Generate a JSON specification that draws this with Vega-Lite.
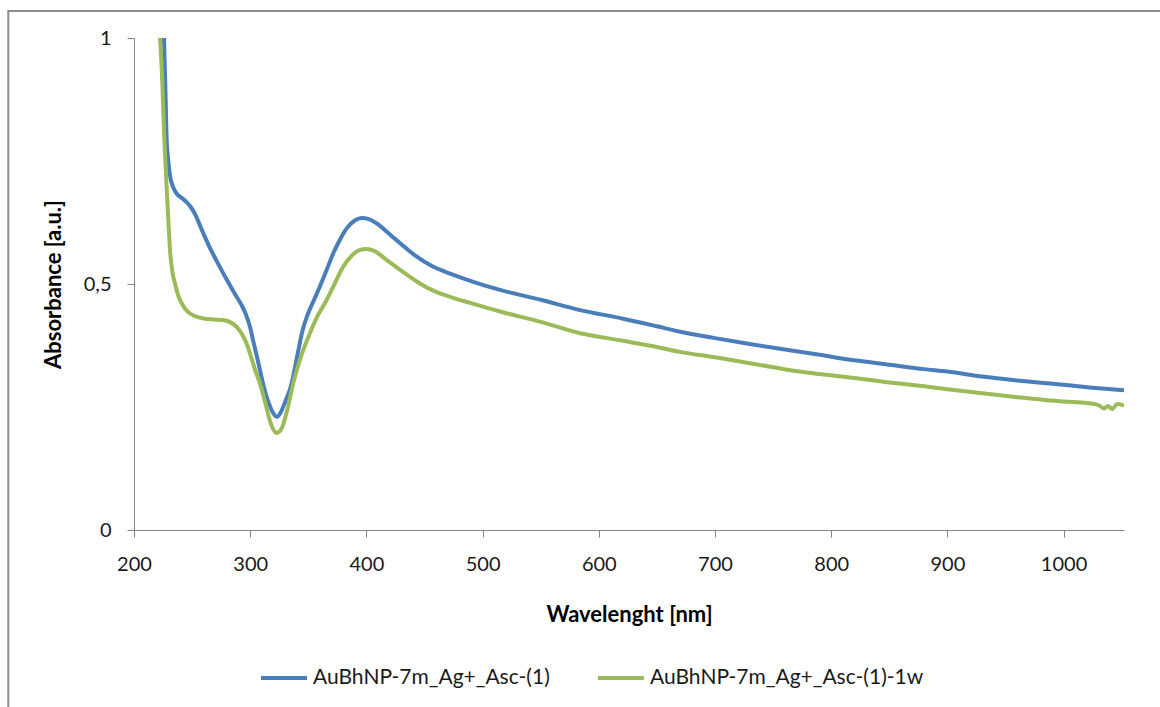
{
  "$schema": "https://vega.github.io/schema/vega-lite/v6.json",
  "autosize": "none",
  "width": 990,
  "height": 492,
  "padding": {"left": 134, "top": 38, "right": 36, "bottom": 177},
  "background": "white",
  "config": {
    "view": {"stroke": null},
    "font": "Lato",
    "axis": {
      "grid": false,
      "domainColor": "#868686",
      "tickColor": "#868686",
      "tickSize": 7,
      "labelFont": "Lato",
      "labelFontSize": 20,
      "labelColor": "#1a1a1a",
      "titleFont": "Lato",
      "titleFontSize": 22,
      "titleFontWeight": "bold",
      "titleColor": "#000000"
    },
    "legend": {
      "labelFont": "Lato",
      "labelFontSize": 21,
      "labelColor": "#1a1a1a",
      "labelLimit": 0
    }
  },
  "datasets": {
    "spectra": [
      {"wl": 225.8, "abs": 1.0, "series": "AuBhNP-7m_Ag+_Asc-(1)"},
      {"wl": 227, "abs": 0.9, "series": "AuBhNP-7m_Ag+_Asc-(1)"},
      {"wl": 228, "abs": 0.8, "series": "AuBhNP-7m_Ag+_Asc-(1)"},
      {"wl": 229.5, "abs": 0.75, "series": "AuBhNP-7m_Ag+_Asc-(1)"},
      {"wl": 231, "abs": 0.72, "series": "AuBhNP-7m_Ag+_Asc-(1)"},
      {"wl": 234, "abs": 0.695, "series": "AuBhNP-7m_Ag+_Asc-(1)"},
      {"wl": 237, "abs": 0.683, "series": "AuBhNP-7m_Ag+_Asc-(1)"},
      {"wl": 241, "abs": 0.675, "series": "AuBhNP-7m_Ag+_Asc-(1)"},
      {"wl": 245, "abs": 0.667, "series": "AuBhNP-7m_Ag+_Asc-(1)"},
      {"wl": 249, "abs": 0.656, "series": "AuBhNP-7m_Ag+_Asc-(1)"},
      {"wl": 253, "abs": 0.64, "series": "AuBhNP-7m_Ag+_Asc-(1)"},
      {"wl": 258, "abs": 0.612, "series": "AuBhNP-7m_Ag+_Asc-(1)"},
      {"wl": 265, "abs": 0.575, "series": "AuBhNP-7m_Ag+_Asc-(1)"},
      {"wl": 272, "abs": 0.543, "series": "AuBhNP-7m_Ag+_Asc-(1)"},
      {"wl": 280, "abs": 0.508, "series": "AuBhNP-7m_Ag+_Asc-(1)"},
      {"wl": 287, "abs": 0.479, "series": "AuBhNP-7m_Ag+_Asc-(1)"},
      {"wl": 292.6, "abs": 0.457, "series": "AuBhNP-7m_Ag+_Asc-(1)"},
      {"wl": 296, "abs": 0.44, "series": "AuBhNP-7m_Ag+_Asc-(1)"},
      {"wl": 299.8, "abs": 0.413, "series": "AuBhNP-7m_Ag+_Asc-(1)"},
      {"wl": 303, "abs": 0.38, "series": "AuBhNP-7m_Ag+_Asc-(1)"},
      {"wl": 307, "abs": 0.34, "series": "AuBhNP-7m_Ag+_Asc-(1)"},
      {"wl": 311, "abs": 0.298, "series": "AuBhNP-7m_Ag+_Asc-(1)"},
      {"wl": 316, "abs": 0.258, "series": "AuBhNP-7m_Ag+_Asc-(1)"},
      {"wl": 320, "abs": 0.237, "series": "AuBhNP-7m_Ag+_Asc-(1)"},
      {"wl": 323, "abs": 0.23, "series": "AuBhNP-7m_Ag+_Asc-(1)"},
      {"wl": 326, "abs": 0.238, "series": "AuBhNP-7m_Ag+_Asc-(1)"},
      {"wl": 330, "abs": 0.26, "series": "AuBhNP-7m_Ag+_Asc-(1)"},
      {"wl": 335.7, "abs": 0.298, "series": "AuBhNP-7m_Ag+_Asc-(1)"},
      {"wl": 341, "abs": 0.36, "series": "AuBhNP-7m_Ag+_Asc-(1)"},
      {"wl": 345, "abs": 0.405, "series": "AuBhNP-7m_Ag+_Asc-(1)"},
      {"wl": 349, "abs": 0.435, "series": "AuBhNP-7m_Ag+_Asc-(1)"},
      {"wl": 355, "abs": 0.468, "series": "AuBhNP-7m_Ag+_Asc-(1)"},
      {"wl": 360, "abs": 0.495, "series": "AuBhNP-7m_Ag+_Asc-(1)"},
      {"wl": 366, "abs": 0.53, "series": "AuBhNP-7m_Ag+_Asc-(1)"},
      {"wl": 372, "abs": 0.565, "series": "AuBhNP-7m_Ag+_Asc-(1)"},
      {"wl": 377, "abs": 0.589, "series": "AuBhNP-7m_Ag+_Asc-(1)"},
      {"wl": 383, "abs": 0.613, "series": "AuBhNP-7m_Ag+_Asc-(1)"},
      {"wl": 390, "abs": 0.629, "series": "AuBhNP-7m_Ag+_Asc-(1)"},
      {"wl": 396, "abs": 0.634, "series": "AuBhNP-7m_Ag+_Asc-(1)"},
      {"wl": 402, "abs": 0.632, "series": "AuBhNP-7m_Ag+_Asc-(1)"},
      {"wl": 409, "abs": 0.623, "series": "AuBhNP-7m_Ag+_Asc-(1)"},
      {"wl": 420, "abs": 0.601, "series": "AuBhNP-7m_Ag+_Asc-(1)"},
      {"wl": 432, "abs": 0.577, "series": "AuBhNP-7m_Ag+_Asc-(1)"},
      {"wl": 443, "abs": 0.556, "series": "AuBhNP-7m_Ag+_Asc-(1)"},
      {"wl": 456, "abs": 0.537, "series": "AuBhNP-7m_Ag+_Asc-(1)"},
      {"wl": 472, "abs": 0.521, "series": "AuBhNP-7m_Ag+_Asc-(1)"},
      {"wl": 490, "abs": 0.506, "series": "AuBhNP-7m_Ag+_Asc-(1)"},
      {"wl": 515, "abs": 0.488, "series": "AuBhNP-7m_Ag+_Asc-(1)"},
      {"wl": 550, "abs": 0.468, "series": "AuBhNP-7m_Ag+_Asc-(1)"},
      {"wl": 584, "abs": 0.447, "series": "AuBhNP-7m_Ag+_Asc-(1)"},
      {"wl": 620, "abs": 0.43, "series": "AuBhNP-7m_Ag+_Asc-(1)"},
      {"wl": 650, "abs": 0.414, "series": "AuBhNP-7m_Ag+_Asc-(1)"},
      {"wl": 670, "abs": 0.403, "series": "AuBhNP-7m_Ag+_Asc-(1)"},
      {"wl": 700, "abs": 0.39, "series": "AuBhNP-7m_Ag+_Asc-(1)"},
      {"wl": 730, "abs": 0.378, "series": "AuBhNP-7m_Ag+_Asc-(1)"},
      {"wl": 760, "abs": 0.367, "series": "AuBhNP-7m_Ag+_Asc-(1)"},
      {"wl": 790, "abs": 0.356, "series": "AuBhNP-7m_Ag+_Asc-(1)"},
      {"wl": 820, "abs": 0.345, "series": "AuBhNP-7m_Ag+_Asc-(1)"},
      {"wl": 850, "abs": 0.336, "series": "AuBhNP-7m_Ag+_Asc-(1)"},
      {"wl": 880, "abs": 0.327, "series": "AuBhNP-7m_Ag+_Asc-(1)"},
      {"wl": 900, "abs": 0.322, "series": "AuBhNP-7m_Ag+_Asc-(1)"},
      {"wl": 930, "abs": 0.312, "series": "AuBhNP-7m_Ag+_Asc-(1)"},
      {"wl": 960, "abs": 0.304, "series": "AuBhNP-7m_Ag+_Asc-(1)"},
      {"wl": 1000, "abs": 0.295, "series": "AuBhNP-7m_Ag+_Asc-(1)"},
      {"wl": 1025, "abs": 0.289, "series": "AuBhNP-7m_Ag+_Asc-(1)"},
      {"wl": 1052, "abs": 0.284, "series": "AuBhNP-7m_Ag+_Asc-(1)"},
      {"wl": 222.4, "abs": 1.0, "series": "AuBhNP-7m_Ag+_Asc-(1)-1w"},
      {"wl": 224, "abs": 0.93, "series": "AuBhNP-7m_Ag+_Asc-(1)-1w"},
      {"wl": 226, "abs": 0.8, "series": "AuBhNP-7m_Ag+_Asc-(1)-1w"},
      {"wl": 228, "abs": 0.7, "series": "AuBhNP-7m_Ag+_Asc-(1)-1w"},
      {"wl": 230, "abs": 0.61, "series": "AuBhNP-7m_Ag+_Asc-(1)-1w"},
      {"wl": 231, "abs": 0.569, "series": "AuBhNP-7m_Ag+_Asc-(1)-1w"},
      {"wl": 233, "abs": 0.525, "series": "AuBhNP-7m_Ag+_Asc-(1)-1w"},
      {"wl": 235.3, "abs": 0.501, "series": "AuBhNP-7m_Ag+_Asc-(1)-1w"},
      {"wl": 238, "abs": 0.477, "series": "AuBhNP-7m_Ag+_Asc-(1)-1w"},
      {"wl": 241, "abs": 0.461, "series": "AuBhNP-7m_Ag+_Asc-(1)-1w"},
      {"wl": 244.5, "abs": 0.448, "series": "AuBhNP-7m_Ag+_Asc-(1)-1w"},
      {"wl": 248.2, "abs": 0.44, "series": "AuBhNP-7m_Ag+_Asc-(1)-1w"},
      {"wl": 253, "abs": 0.434, "series": "AuBhNP-7m_Ag+_Asc-(1)-1w"},
      {"wl": 259.6, "abs": 0.43, "series": "AuBhNP-7m_Ag+_Asc-(1)-1w"},
      {"wl": 268, "abs": 0.428, "series": "AuBhNP-7m_Ag+_Asc-(1)-1w"},
      {"wl": 276.8, "abs": 0.427, "series": "AuBhNP-7m_Ag+_Asc-(1)-1w"},
      {"wl": 283, "abs": 0.422, "series": "AuBhNP-7m_Ag+_Asc-(1)-1w"},
      {"wl": 288.3, "abs": 0.413, "series": "AuBhNP-7m_Ag+_Asc-(1)-1w"},
      {"wl": 293, "abs": 0.398, "series": "AuBhNP-7m_Ag+_Asc-(1)-1w"},
      {"wl": 296.9, "abs": 0.379, "series": "AuBhNP-7m_Ag+_Asc-(1)-1w"},
      {"wl": 301, "abs": 0.35, "series": "AuBhNP-7m_Ag+_Asc-(1)-1w"},
      {"wl": 305, "abs": 0.32, "series": "AuBhNP-7m_Ag+_Asc-(1)-1w"},
      {"wl": 308.4, "abs": 0.298, "series": "AuBhNP-7m_Ag+_Asc-(1)-1w"},
      {"wl": 313, "abs": 0.258, "series": "AuBhNP-7m_Ag+_Asc-(1)-1w"},
      {"wl": 318, "abs": 0.215, "series": "AuBhNP-7m_Ag+_Asc-(1)-1w"},
      {"wl": 322.8, "abs": 0.197, "series": "AuBhNP-7m_Ag+_Asc-(1)-1w"},
      {"wl": 327, "abs": 0.206, "series": "AuBhNP-7m_Ag+_Asc-(1)-1w"},
      {"wl": 332, "abs": 0.245, "series": "AuBhNP-7m_Ag+_Asc-(1)-1w"},
      {"wl": 337, "abs": 0.298, "series": "AuBhNP-7m_Ag+_Asc-(1)-1w"},
      {"wl": 344, "abs": 0.355, "series": "AuBhNP-7m_Ag+_Asc-(1)-1w"},
      {"wl": 351.4, "abs": 0.4, "series": "AuBhNP-7m_Ag+_Asc-(1)-1w"},
      {"wl": 358, "abs": 0.435, "series": "AuBhNP-7m_Ag+_Asc-(1)-1w"},
      {"wl": 365.7, "abs": 0.467, "series": "AuBhNP-7m_Ag+_Asc-(1)-1w"},
      {"wl": 373, "abs": 0.502, "series": "AuBhNP-7m_Ag+_Asc-(1)-1w"},
      {"wl": 380, "abs": 0.535, "series": "AuBhNP-7m_Ag+_Asc-(1)-1w"},
      {"wl": 388, "abs": 0.559, "series": "AuBhNP-7m_Ag+_Asc-(1)-1w"},
      {"wl": 394, "abs": 0.569, "series": "AuBhNP-7m_Ag+_Asc-(1)-1w"},
      {"wl": 400, "abs": 0.571, "series": "AuBhNP-7m_Ag+_Asc-(1)-1w"},
      {"wl": 407, "abs": 0.567, "series": "AuBhNP-7m_Ag+_Asc-(1)-1w"},
      {"wl": 417.3, "abs": 0.549, "series": "AuBhNP-7m_Ag+_Asc-(1)-1w"},
      {"wl": 430, "abs": 0.527, "series": "AuBhNP-7m_Ag+_Asc-(1)-1w"},
      {"wl": 446, "abs": 0.501, "series": "AuBhNP-7m_Ag+_Asc-(1)-1w"},
      {"wl": 458, "abs": 0.486, "series": "AuBhNP-7m_Ag+_Asc-(1)-1w"},
      {"wl": 472, "abs": 0.474, "series": "AuBhNP-7m_Ag+_Asc-(1)-1w"},
      {"wl": 490, "abs": 0.461, "series": "AuBhNP-7m_Ag+_Asc-(1)-1w"},
      {"wl": 515, "abs": 0.444, "series": "AuBhNP-7m_Ag+_Asc-(1)-1w"},
      {"wl": 550, "abs": 0.423, "series": "AuBhNP-7m_Ag+_Asc-(1)-1w"},
      {"wl": 584, "abs": 0.4, "series": "AuBhNP-7m_Ag+_Asc-(1)-1w"},
      {"wl": 620, "abs": 0.385, "series": "AuBhNP-7m_Ag+_Asc-(1)-1w"},
      {"wl": 650, "abs": 0.372, "series": "AuBhNP-7m_Ag+_Asc-(1)-1w"},
      {"wl": 670, "abs": 0.362, "series": "AuBhNP-7m_Ag+_Asc-(1)-1w"},
      {"wl": 700, "abs": 0.351, "series": "AuBhNP-7m_Ag+_Asc-(1)-1w"},
      {"wl": 730, "abs": 0.339, "series": "AuBhNP-7m_Ag+_Asc-(1)-1w"},
      {"wl": 773, "abs": 0.322, "series": "AuBhNP-7m_Ag+_Asc-(1)-1w"},
      {"wl": 790, "abs": 0.317, "series": "AuBhNP-7m_Ag+_Asc-(1)-1w"},
      {"wl": 820, "abs": 0.309, "series": "AuBhNP-7m_Ag+_Asc-(1)-1w"},
      {"wl": 850, "abs": 0.3, "series": "AuBhNP-7m_Ag+_Asc-(1)-1w"},
      {"wl": 880, "abs": 0.292, "series": "AuBhNP-7m_Ag+_Asc-(1)-1w"},
      {"wl": 900, "abs": 0.286, "series": "AuBhNP-7m_Ag+_Asc-(1)-1w"},
      {"wl": 930, "abs": 0.278, "series": "AuBhNP-7m_Ag+_Asc-(1)-1w"},
      {"wl": 960, "abs": 0.27, "series": "AuBhNP-7m_Ag+_Asc-(1)-1w"},
      {"wl": 1000, "abs": 0.261, "series": "AuBhNP-7m_Ag+_Asc-(1)-1w"},
      {"wl": 1020, "abs": 0.258, "series": "AuBhNP-7m_Ag+_Asc-(1)-1w"},
      {"wl": 1030, "abs": 0.254, "series": "AuBhNP-7m_Ag+_Asc-(1)-1w"},
      {"wl": 1035, "abs": 0.247, "series": "AuBhNP-7m_Ag+_Asc-(1)-1w"},
      {"wl": 1038, "abs": 0.252, "series": "AuBhNP-7m_Ag+_Asc-(1)-1w"},
      {"wl": 1042, "abs": 0.246, "series": "AuBhNP-7m_Ag+_Asc-(1)-1w"},
      {"wl": 1046, "abs": 0.256, "series": "AuBhNP-7m_Ag+_Asc-(1)-1w"},
      {"wl": 1052, "abs": 0.253, "series": "AuBhNP-7m_Ag+_Asc-(1)-1w"}
    ]
  },
  "layer": [
    {
      "data": {"name": "spectra"},
      "mark": {"type": "line", "strokeWidth": 4, "interpolate": "monotone", "clip": true},
      "encoding": {
        "x": {
          "field": "wl",
          "type": "quantitative",
          "scale": {"domain": [200, 1052], "zero": false, "nice": false},
          "axis": {
            "title": "Wavelenght [nm]",
            "values": [200, 300, 400, 500, 600, 700, 800, 900, 1000],
            "format": "d",
            "labelPadding": 17,
            "titlePadding": 30,
            "labelFlush": false
          }
        },
        "y": {
          "field": "abs",
          "type": "quantitative",
          "scale": {"domain": [0, 1], "nice": false},
          "axis": {
            "title": "Absorbance [a.u.]",
            "values": [0, 0.5, 1],
            "labelExpr": "replace(format(datum.value, ''), '.', ',')",
            "labelPadding": 16,
            "titlePadding": 18,
            "labelFlush": false
          }
        },
        "color": {
          "field": "series",
          "type": "nominal",
          "scale": {
            "domain": ["AuBhNP-7m_Ag+_Asc-(1)", "AuBhNP-7m_Ag+_Asc-(1)-1w"],
            "range": ["#4a7ebb", "#9bbb59"]
          },
          "legend": {
            "title": null,
            "orient": "none",
            "legendX": 125,
            "legendY": 615,
            "direction": "horizontal",
            "columns": 2,
            "columnPadding": 40,
            "symbolType": "stroke",
            "symbolSize": 2116,
            "symbolStrokeWidth": 4,
            "labelOffset": 4
          }
        }
      }
    },
    {
      "data": {"values": [{}]},
      "mark": {"type": "rect", "fill": "transparent", "stroke": "#8c8c8c", "strokeWidth": 2, "clip": false},
      "encoding": {
        "x": {"datum": 91.8, "type": "quantitative"},
        "x2": {"datum": 1400},
        "y": {"datum": 1.055, "type": "quantitative"},
        "y2": {"datum": -1}
      }
    }
  ]
}
